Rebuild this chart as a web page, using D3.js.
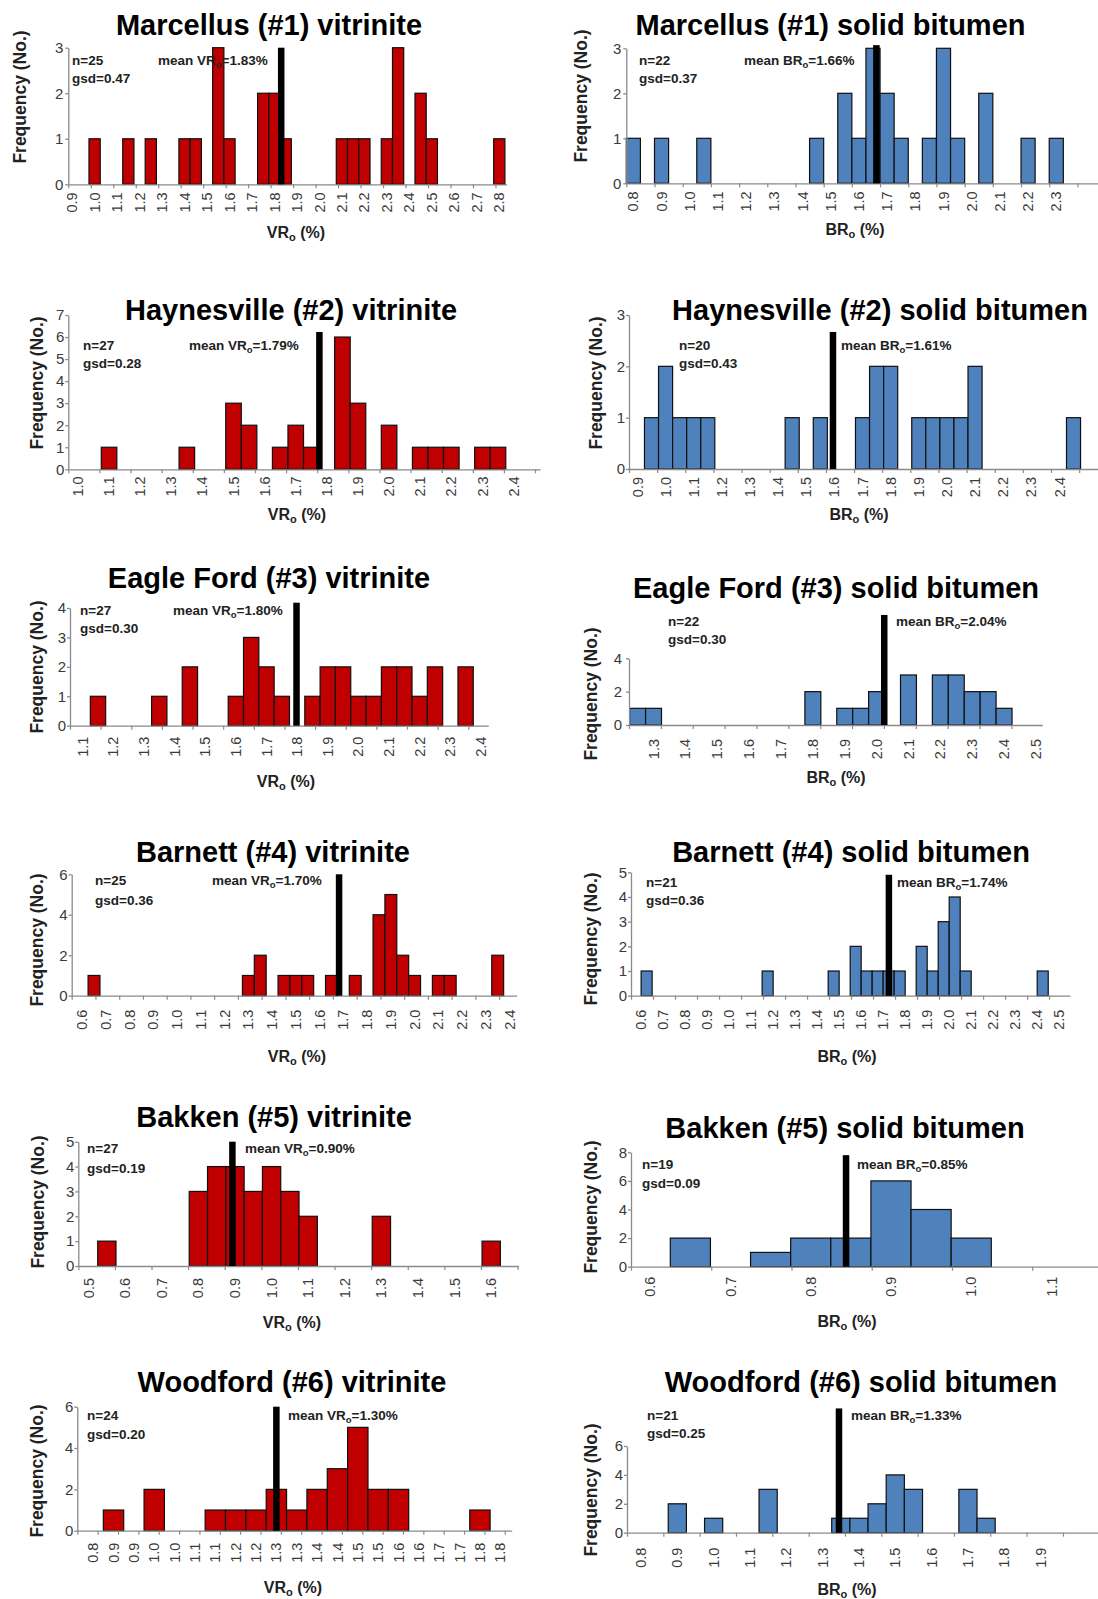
<!DOCTYPE html>
<html>
<head>
<meta charset="utf-8">
<script src="https://cdn.jsdelivr.net/npm/d3@7"></script>
<style>
body { margin: 0; background: #fff; }
svg { display: block; }
text { font-family: "Liberation Sans", Arial, sans-serif; }
</style>
</head>
<body>
<svg id="chart" width="1098" height="1599"></svg>
<script>
// ---- data ----
const panelTitles = [
    "Marcellus (#1) vitrinite", "Marcellus (#1) solid bitumen",
    "Haynesville (#2) vitrinite", "Haynesville (#2) solid bitumen",
    "Eagle Ford (#3) vitrinite", "Eagle Ford (#3) solid bitumen",
    "Barnett (#4) vitrinite", "Barnett (#4) solid bitumen",
    "Bakken (#5) vitrinite", "Bakken (#5) solid bitumen",
    "Woodford (#6) vitrinite", "Woodford (#6) solid bitumen"
];
const macerals = ["VR", "BR", "VR", "BR", "VR", "BR", "VR", "BR", "VR", "BR", "VR", "BR"];
const sampleN = [25, 22, 27, 20, 27, 22, 25, 21, 27, 19, 24, 21];
const gsdValues = ["0.47", "0.37", "0.28", "0.43", "0.30", "0.30", "0.36", "0.36", "0.19", "0.09", "0.20", "0.25"];
const meanValues = ["1.83", "1.66", "1.79", "1.61", "1.80", "2.04", "1.70", "1.74", "0.90", "0.85", "1.30", "1.33"];
// where the black mean bar sits on each x axis, and how high it reaches (frequency units)
const meanLineAt = [1.83, 1.662, 1.776, 1.595, 1.798, 2.024, 1.682, 1.726, 0.893, 0.844, 1.25, 1.345];
const meanLineTop = [3, 3.07, 6.23, 2.67, 4.18, 6.6, 6, 4.9, 5, 7.8, 6, 8.6];
const yMax = [3, 3, 7, 3, 4, 4, 6, 5, 5, 8, 6, 6];
const yStep = [1, 1, 1, 1, 1, 2, 2, 1, 1, 2, 2, 2];
const binWidth = 0.05;

// bin centres (Ro %) and counts
const marcellusVrBins = [1.0, 1.15, 1.25, 1.4, 1.45, 1.55, 1.6, 1.75, 1.8, 1.85, 2.1, 2.15, 2.2, 2.3, 2.35, 2.45, 2.5, 2.8];
const marcellusVrCounts = [1, 1, 1, 1, 1, 3, 1, 2, 2, 1, 1, 1, 1, 1, 3, 2, 1, 1];
const marcellusSbBins = [0.8, 0.9, 1.05, 1.45, 1.55, 1.6, 1.65, 1.7, 1.75, 1.85, 1.9, 1.95, 2.05, 2.2, 2.3];
const marcellusSbCounts = [1, 1, 1, 1, 2, 1, 3, 2, 1, 1, 3, 1, 2, 1, 1];
const haynesvilleVrBins = [1.1, 1.35, 1.5, 1.55, 1.65, 1.7, 1.75, 1.85, 1.9, 2.0, 2.1, 2.15, 2.2, 2.3, 2.35];
const haynesvilleVrCounts = [1, 1, 3, 2, 1, 2, 1, 6, 3, 2, 1, 1, 1, 1, 1];
const haynesvilleSbBins = [0.95, 1.0, 1.05, 1.1, 1.15, 1.45, 1.55, 1.7, 1.75, 1.8, 1.9, 1.95, 2.0, 2.05, 2.1, 2.45];
const haynesvilleSbCounts = [1, 2, 1, 1, 1, 1, 1, 1, 2, 2, 1, 1, 1, 1, 2, 1];
const eagleFordVrBins = [1.15, 1.35, 1.45, 1.6, 1.65, 1.7, 1.75, 1.85, 1.9, 1.95, 2.0, 2.05, 2.1, 2.15, 2.2, 2.25, 2.35];
const eagleFordVrCounts = [1, 1, 2, 1, 3, 2, 1, 1, 2, 2, 1, 1, 2, 2, 1, 2, 2];
const eagleFordSbBins = [1.25, 1.3, 1.8, 1.9, 1.95, 2.0, 2.1, 2.2, 2.25, 2.3, 2.35, 2.4];
const eagleFordSbCounts = [1, 1, 2, 1, 1, 2, 3, 3, 3, 2, 2, 1];
const barnettVrBins = [0.65, 1.3, 1.35, 1.45, 1.5, 1.55, 1.65, 1.75, 1.85, 1.9, 1.95, 2.0, 2.1, 2.15, 2.35];
const barnettVrCounts = [1, 1, 2, 1, 1, 1, 1, 1, 4, 5, 2, 1, 1, 1, 2];
const barnettSbBins = [0.625, 1.175, 1.475, 1.575, 1.625, 1.675, 1.725, 1.775, 1.875, 1.925, 1.975, 2.025, 2.075, 2.425];
const barnettSbCounts = [1, 1, 1, 2, 1, 1, 1, 1, 2, 1, 3, 4, 1, 1];
const bakkenVrBins = [0.55, 0.8, 0.85, 0.9, 0.95, 1.0, 1.05, 1.1, 1.3, 1.6];
const bakkenVrCounts = [1, 3, 4, 4, 3, 4, 3, 2, 2, 1];
const bakkenSbBins = [0.65, 0.75, 0.8, 0.85, 0.9, 0.95, 1.0];
const bakkenSbCounts = [2, 1, 2, 2, 6, 4, 2];
const woodfordVrBins = [0.85, 0.95, 1.1, 1.15, 1.2, 1.25, 1.3, 1.35, 1.4, 1.45, 1.5, 1.55, 1.75];
const woodfordVrCounts = [1, 2, 1, 1, 1, 2, 1, 2, 3, 5, 2, 2, 1];
const woodfordSbBins = [0.9, 1.0, 1.15, 1.35, 1.4, 1.45, 1.5, 1.55, 1.7, 1.75];
const woodfordSbCounts = [2, 1, 3, 1, 1, 2, 4, 3, 3, 1];

// x tick labels (first label value and spacing below)
const marcellusVrTicks = ["0.9","1.0","1.1","1.2","1.3","1.4","1.5","1.6","1.7","1.8","1.9","2.0","2.1","2.2","2.3","2.4","2.5","2.6","2.7","2.8"];
const marcellusSbTicks = ["0.8","0.9","1.0","1.1","1.2","1.3","1.4","1.5","1.6","1.7","1.8","1.9","2.0","2.1","2.2","2.3"];
const haynesvilleVrTicks = ["1.0","1.1","1.2","1.3","1.4","1.5","1.6","1.7","1.8","1.9","2.0","2.1","2.2","2.3","2.4"];
const haynesvilleSbTicks = ["0.9","1.0","1.1","1.2","1.3","1.4","1.5","1.6","1.7","1.8","1.9","2.0","2.1","2.2","2.3","2.4"];
const eagleFordVrTicks = ["1.1","1.2","1.3","1.4","1.5","1.6","1.7","1.8","1.9","2.0","2.1","2.2","2.3","2.4"];
const eagleFordSbTicks = ["1.3","1.4","1.5","1.6","1.7","1.8","1.9","2.0","2.1","2.2","2.3","2.4","2.5"];
const barnettVrTicks = ["0.6","0.7","0.8","0.9","1.0","1.1","1.2","1.3","1.4","1.5","1.6","1.7","1.8","1.9","2.0","2.1","2.2","2.3","2.4"];
const barnettSbTicks = ["0.6","0.7","0.8","0.9","1.0","1.1","1.2","1.3","1.4","1.5","1.6","1.7","1.8","1.9","2.0","2.1","2.2","2.3","2.4","2.5"];
const bakkenVrTicks = ["0.5","0.6","0.7","0.8","0.9","1.0","1.1","1.2","1.3","1.4","1.5","1.6"];
const bakkenSbTicks = ["0.6","0.7","0.8","0.9","1.0","1.1"];
const woodfordVrTicks = ["0.8","0.9","0.9","1.0","1.0","1.1","1.1","1.2","1.2","1.3","1.3","1.4","1.4","1.5","1.5","1.6","1.6","1.7","1.7","1.8","1.8"];
const woodfordSbTicks = ["0.8","0.9","1.0","1.1","1.2","1.3","1.4","1.5","1.6","1.7","1.8","1.9"];
const tickStarts = [0.9, 0.8, 1.0, 0.9, 1.1, 1.3, 0.6, 0.6, 0.5, 0.6, 0.8, 0.8];
const tickSteps = [0.1, 0.1, 0.1, 0.1, 0.1, 0.1, 0.1, 0.1, 0.1, 0.1, 0.05, 0.1];

const binSets = [marcellusVrBins, marcellusSbBins, haynesvilleVrBins, haynesvilleSbBins, eagleFordVrBins, eagleFordSbBins,
    barnettVrBins, barnettSbBins, bakkenVrBins, bakkenSbBins, woodfordVrBins, woodfordSbBins];
const countSets = [marcellusVrCounts, marcellusSbCounts, haynesvilleVrCounts, haynesvilleSbCounts, eagleFordVrCounts, eagleFordSbCounts,
    barnettVrCounts, barnettSbCounts, bakkenVrCounts, bakkenSbCounts, woodfordVrCounts, woodfordSbCounts];
const tickSets = [marcellusVrTicks, marcellusSbTicks, haynesvilleVrTicks, haynesvilleSbTicks, eagleFordVrTicks, eagleFordSbTicks,
    barnettVrTicks, barnettSbTicks, bakkenVrTicks, bakkenSbTicks, woodfordVrTicks, woodfordSbTicks];

// ---- layout of each panel on the page ----
const layout = [
    {L: 68.3, R: 506.7, dom: [0.883, 2.833], top: 47.7, bot: 184.3, title: [269, 35], n: [72, 65, 83], mean: [158, 65], xlab: [296, 238], ylab: [20, 97], xOff: 8, yPad: 2},
    {L: 626.3, R: 1098, dom: [0.775, 2.448], top: 48.3, bot: 183.3, title: [830.5, 35], n: [639, 65, 83], mean: [744, 65], xlab: [855, 235], ylab: [581, 96], xOff: 8, yPad: 2},
    {L: 68.3, R: 540, dom: [0.969, 2.485], top: 315, bot: 469.3, title: [291, 320], n: [83, 350, 368], mean: [189, 350], xlab: [297, 520], ylab: [37, 383], xOff: 7, yPad: 1},
    {L: 629, R: 1098, dom: [0.870, 2.537], top: 315, bot: 469, title: [880, 320], n: [679, 350, 368], mean: [841, 350], xlab: [859, 520], ylab: [596, 383], xOff: 8, yPad: 1},
    {L: 70, R: 488.3, dom: [1.0586, 2.424], top: 608, bot: 725.7, title: [269, 588], n: [80, 615, 633], mean: [173, 615], xlab: [286, 787], ylab: [37, 667], xOff: 11, yPad: 1},
    {L: 629, R: 1042.3, dom: [1.223, 2.52], top: 658.3, bot: 725, title: [836, 598], n: [668, 626, 644], mean: [896, 626], xlab: [836, 783], ylab: [591, 694], xOff: 14, yPad: 4},
    {L: 71.7, R: 516.7, dom: [0.556, 2.43], top: 874.3, bot: 995.7, title: [273, 862], n: [95, 885, 905], mean: [212, 885], xlab: [297, 1062], ylab: [37, 940], xOff: 14, yPad: 1},
    {L: 631, R: 1070, dom: [0.554, 2.549], top: 872.3, bot: 995.7, title: [851, 862], n: [646, 887, 905], mean: [897, 887], xlab: [847, 1062], ylab: [591, 939], xOff: 14, yPad: 1},
    {L: 78.3, R: 518.3, dom: [0.472, 1.674], top: 1141.7, bot: 1266, title: [274, 1127], n: [87, 1153, 1173], mean: [245, 1153], xlab: [292, 1328], ylab: [38, 1202], xOff: 12, yPad: 1},
    {L: 631, R: 1098, dom: [0.576, 1.158], top: 1152.3, bot: 1266.7, title: [845, 1138], n: [642, 1169, 1188], mean: [857, 1169], xlab: [847, 1327], ylab: [591, 1207], xOff: 10, yPad: 1},
    {L: 77.3, R: 511.7, dom: [0.761, 1.828], top: 1406.7, bot: 1530.7, title: [292, 1392], n: [87, 1420, 1439], mean: [288, 1420], xlab: [293, 1593], ylab: [37, 1471], xOff: 12, yPad: 1},
    {L: 627, R: 1098, dom: [0.7615, 2.058], top: 1446, bot: 1532.7, title: [861, 1392], n: [647, 1420, 1438], mean: [851, 1420], xlab: [847, 1595], ylab: [591, 1490], xOff: 15, yPad: 1}
];

const vrColor = "#C00000";
const brColor = "#4F81BD";
const axisColor = "#8a8a8a";
const tickTextColor = "#3a3a3a";

let svg = d3.select("#chart");

for (let i = 0; i < panelTitles.length; i++) {
    drawPanel(svg, i);
}

function drawPanel(svg, i) {
    let p = layout[i];
    let g = svg.append("g");
    let kind = macerals[i];

    let x = d3.scaleLinear().domain(p.dom).range([p.L, p.R]);
    let y = d3.scaleLinear().domain([0, yMax[i]]).range([p.bot, p.top]);

    let bars = binSets[i].map((c, k) => ({c: c, n: countSets[i][k]}));

    // bars
    g.selectAll("rect.bar")
        .data(bars)
        .join("rect")
        .attr("class", "bar")
        .attr("x", d => x(d.c - binWidth / 2))
        .attr("width", d => x(d.c + binWidth / 2) - x(d.c - binWidth / 2))
        .attr("y", d => y(d.n))
        .attr("height", d => y(0) - y(d.n))
        .attr("fill", kind == "VR" ? vrColor : brColor)
        .attr("stroke", "#101010")
        .attr("stroke-width", 1.2);

    // y axis
    let yTicks = d3.range(0, yMax[i] + 0.001, yStep[i]);
    let yAxis = g.append("g")
        .attr("transform", "translate(" + p.L + ",0)")
        .call(d3.axisLeft(y).tickValues(yTicks).tickSize(3).tickSizeOuter(0).tickPadding(p.yPad).tickFormat(d3.format("d")));
    yAxis.select(".domain").attr("stroke", axisColor).attr("stroke-width", 1.3);
    yAxis.selectAll(".tick line").attr("stroke", axisColor).attr("stroke-width", 1.3);
    yAxis.selectAll(".tick text")
        .attr("fill", tickTextColor)
        .style("font-size", "15px")
        .style("font-family", "'Liberation Sans', Arial, sans-serif");

    // x axis (tick marks only, labels drawn rotated below)
    let marks = d3.range(p.dom[0], p.dom[1] + 0.0001, tickSteps[i]);
    let xAxis = g.append("g")
        .attr("transform", "translate(0," + p.bot + ")")
        .call(d3.axisBottom(x).tickValues(marks).tickSize(4).tickSizeOuter(0).tickFormat(""));
    xAxis.select(".domain").attr("stroke", axisColor).attr("stroke-width", 1.3);
    xAxis.selectAll(".tick line").attr("stroke", axisColor).attr("stroke-width", 1.2);

    g.selectAll("text.xtick")
        .data(tickSets[i])
        .join("text")
        .attr("class", "xtick")
        .attr("transform", (d, k) => "translate(" + x(tickStarts[i] + k * tickSteps[i]) + "," + (p.bot + p.xOff) + ") rotate(-90)")
        .attr("text-anchor", "end")
        .attr("dy", "0.35em")
        .attr("fill", tickTextColor)
        .style("font-size", "14.5px")
        .text(d => d);

    // mean bar
    g.append("rect")
        .attr("x", x(meanLineAt[i]) - 3.25)
        .attr("width", 6.5)
        .attr("y", y(meanLineTop[i]))
        .attr("height", y(0) - y(meanLineTop[i]))
        .attr("fill", "#000");

    // title
    g.append("text")
        .attr("x", p.title[0])
        .attr("y", p.title[1])
        .attr("text-anchor", "middle")
        .style("font-size", "29px")
        .style("font-weight", "bold")
        .attr("fill", "#000")
        .text(panelTitles[i]);

    // stats
    g.append("text")
        .attr("x", p.n[0])
        .attr("y", p.n[1])
        .style("font-size", "13.5px")
        .style("font-weight", "bold")
        .attr("fill", "#222")
        .text("n=" + sampleN[i]);
    g.append("text")
        .attr("x", p.n[0])
        .attr("y", p.n[2])
        .style("font-size", "13.5px")
        .style("font-weight", "bold")
        .attr("fill", "#222")
        .text("gsd=" + gsdValues[i]);

    let meanText = g.append("text")
        .attr("x", p.mean[0])
        .attr("y", p.mean[1])
        .style("font-size", "13.5px")
        .style("font-weight", "bold")
        .attr("fill", "#222");
    meanText.append("tspan").text("mean " + kind);
    meanText.append("tspan").attr("dy", 3).style("font-size", "9.5px").text("o");
    meanText.append("tspan").attr("dy", -3).text("=" + meanValues[i] + "%");

    // x axis title
    let xTitle = g.append("text")
        .attr("x", p.xlab[0])
        .attr("y", p.xlab[1])
        .attr("text-anchor", "middle")
        .style("font-size", "16px")
        .style("font-weight", "bold")
        .attr("fill", "#222");
    xTitle.append("tspan").text(kind);
    xTitle.append("tspan").attr("dy", 3).style("font-size", "11px").text("o");
    xTitle.append("tspan").attr("dy", -3).text(" (%)");

    // y axis title
    g.append("text")
        .attr("transform", "translate(" + p.ylab[0] + "," + p.ylab[1] + ") rotate(-90)")
        .attr("text-anchor", "middle")
        .attr("dy", "0.35em")
        .style("font-size", "17.5px")
        .style("font-weight", "bold")
        .attr("fill", "#222")
        .text("Frequency (No.)");
}
</script>
</body>
</html>
